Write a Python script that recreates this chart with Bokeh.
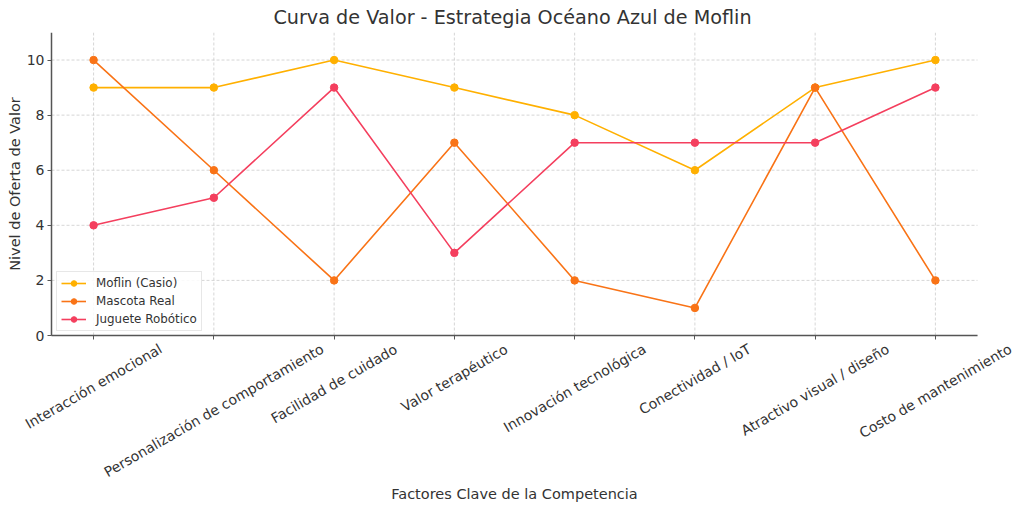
import math
from bokeh.plotting import figure
from bokeh.models import FixedTicker, Range1d, Legend, LegendItem, ColumnDataSource
from bokeh.core.properties import value
from bokeh.embed import file_html
from bokeh.resources import INLINE

categories = [
    "Interacción emocional",
    "Personalización de comportamiento",
    "Facilidad de cuidado",
    "Valor terapéutico",
    "Innovación tecnológica",
    "Conectividad / IoT",
    "Atractivo visual / diseño",
    "Costo de mantenimiento",
]
moflin = [9, 9, 10, 9, 8, 6, 9, 10]
mascota_real = [10, 6, 2, 7, 2, 1, 9, 2]
juguete_robotico = [4, 5, 9, 3, 7, 7, 7, 9]
series_names = ["Moflin (Casio)", "Mascota Real", "Juguete Robótico"]
series_colors = ["#FFB000", "#F97316", "#F43F5E"]
y_ticks = [0, 2, 4, 6, 8, 10]
x_title = "Factores Clave de la Competencia"
y_title = "Nivel de Oferta de Valor"
title = "Curva de Valor - Estrategia Océano Azul de Moflin"

FONT = "DejaVu Sans"
TXT = "#333333"
TICK_PX = 14.0
ANGLE = math.radians(30)
GRID_COLOR = "#cccccc"

# layout (pixels)
W, H = 1024, 510
AX_LEFT, AX_RIGHT = 51, 977      # plotting area of the chart
AX_TOP, AX_BOTTOM = 32, 335
LABEL_GAP = 6                     # axis line -> rotated label box
XTITLE_Y = 493
YTITLE_X = 14

x = list(range(len(categories)))
x0, x1 = -0.35, len(categories) - 1 + 0.35
y0, y1 = 0, 11

# the frame covers the whole canvas below the title; the axes are pinned
# at the chart's own box so every text can be drawn inside the frame
ppx = (AX_RIGHT - AX_LEFT) / (x1 - x0)
ppy = (AX_BOTTOM - AX_TOP) / (y1 - y0)
fx0 = x0 - AX_LEFT / ppx
fx1 = x1 + (W - AX_RIGHT) / ppx
fy0 = y0 - (H - AX_BOTTOM) / ppy

# approximate DejaVu Sans advance widths (units per em = 2048), used to
# centre the rotated category labels under their ticks
_W = {" ": 651, "/": 690, "A": 1401, "C": 1430, "F": 1178, "I": 604, "P": 1235,
      "T": 1251, "V": 1401, "a": 1255, "c": 1126, "d": 1300, "e": 1260, "g": 1300,
      "i": 569, "l": 569, "m": 1995, "n": 1298, "o": 1253, "p": 1300, "r": 842,
      "s": 1067, "t": 803, "u": 1298, "v": 1212, "y": 1212, "z": 1075, "é": 1260,
      "ó": 1253, "ñ": 1298}


def text_width(s, px):
    return sum(_W.get(ch, 1200) for ch in s) / 2048.0 * px


p = figure(
    width=W, height=H,
    output_backend="svg", toolbar_location=None,
    x_range=Range1d(fx0, fx1), y_range=Range1d(fy0, y1),
    min_border_left=0, min_border_right=0,
    min_border_top=AX_TOP, min_border_bottom=0,
)

p.title.text = title
p.title.align = "center"
p.title.text_font = FONT
p.title.text_font_size = "19.2px"
p.title.text_font_style = "normal"
p.title.text_color = TXT
p.title.standoff = 7

p.outline_line_color = None
p.background_fill_color = "white"
p.border_fill_color = "white"
p.grid.visible = False

# grid lines limited to the chart box (dashed, light grey)
p.segment(x0=x, y0=[y0] * len(x), x1=x, y1=[y1] * len(x),
          line_color=GRID_COLOR, line_width=0.8, line_dash="3 2")
p.segment(x0=[x0] * len(y_ticks), y0=y_ticks, x1=[x1] * len(y_ticks), y1=y_ticks,
          line_color=GRID_COLOR, line_width=0.8, line_dash="3 2")

p.xaxis.ticker = FixedTicker(ticks=x)
p.xaxis.major_label_overrides = {i: "" for i in x}
p.xaxis.major_label_text_font_size = "0px"
p.xaxis.major_label_standoff = 0
p.xaxis.fixed_location = y0
p.xaxis.bounds = (x0, x1)

p.yaxis.ticker = FixedTicker(ticks=y_ticks)
p.yaxis.fixed_location = x0
p.yaxis.bounds = (y0, y1)
p.yaxis.major_label_text_font = FONT
p.yaxis.major_label_text_font_size = "14px"
p.yaxis.major_label_text_color = TXT
p.yaxis.major_label_standoff = 3

for ax in (p.xaxis, p.yaxis):
    ax.axis_line_color = "#555555"
    ax.axis_line_width = 1.5
    ax.major_tick_line_color = "#555555"
    ax.major_tick_out = 4
    ax.major_tick_in = 0
    ax.minor_tick_out = 0
    ax.minor_tick_in = 0

items = []
for name, vals, col in zip(series_names, [moflin, mascota_real, juguete_robotico], series_colors):
    ln = p.line(x, vals, line_color=col, line_width=1.6)
    sc = p.scatter(x, vals, size=7.5, fill_color=col, line_color=col)
    items.append(LegendItem(label=name, renderers=[ln, sc]))

legend = Legend(items=items, location=(AX_LEFT + 5, H - AX_BOTTOM + 4))
legend.label_text_font = FONT
legend.label_text_font_size = "11.9px"
legend.label_text_color = TXT
legend.border_line_color = "#d0d0d0"
legend.border_line_width = 1
legend.background_fill_alpha = 0.85
legend.glyph_width = 25
legend.glyph_height = 14
legend.label_standoff = 10
legend.label_height = 14
legend.spacing = 4
legend.padding = 4
p.add_layout(legend)

# rotated category labels, centred under their ticks
ys = []
for cat in categories:
    L = text_width(cat, TICK_PX)
    half_h = (L * math.sin(ANGLE) + TICK_PX * math.cos(ANGLE)) / 2.0
    ys.append(y0 - (LABEL_GAP + half_h) / ppy)

src = ColumnDataSource(dict(x=x, y=ys, text=categories))
p.text(x="x", y="y", text="text", source=src, angle=ANGLE,
       text_align="center", text_baseline="middle",
       text_font=value(FONT), text_font_size=value(f"{TICK_PX}px"), text_color=TXT)

# axis titles
p.text(x=[(x0 + x1) / 2], y=[y0 - (XTITLE_Y - AX_BOTTOM) / ppy], text=[x_title],
       text_align="center", text_baseline="middle",
       text_font=value(FONT), text_font_size=value("14.5px"), text_color=TXT)
p.text(x=[x0 - (AX_LEFT - YTITLE_X) / ppx], y=[(y0 + y1) / 2], text=[y_title],
       angle=math.pi / 2, text_align="center", text_baseline="middle",
       text_font=value(FONT), text_font_size=value("14.5px"), text_color=TXT)

open("out.html", "w").write(file_html(p, INLINE))
